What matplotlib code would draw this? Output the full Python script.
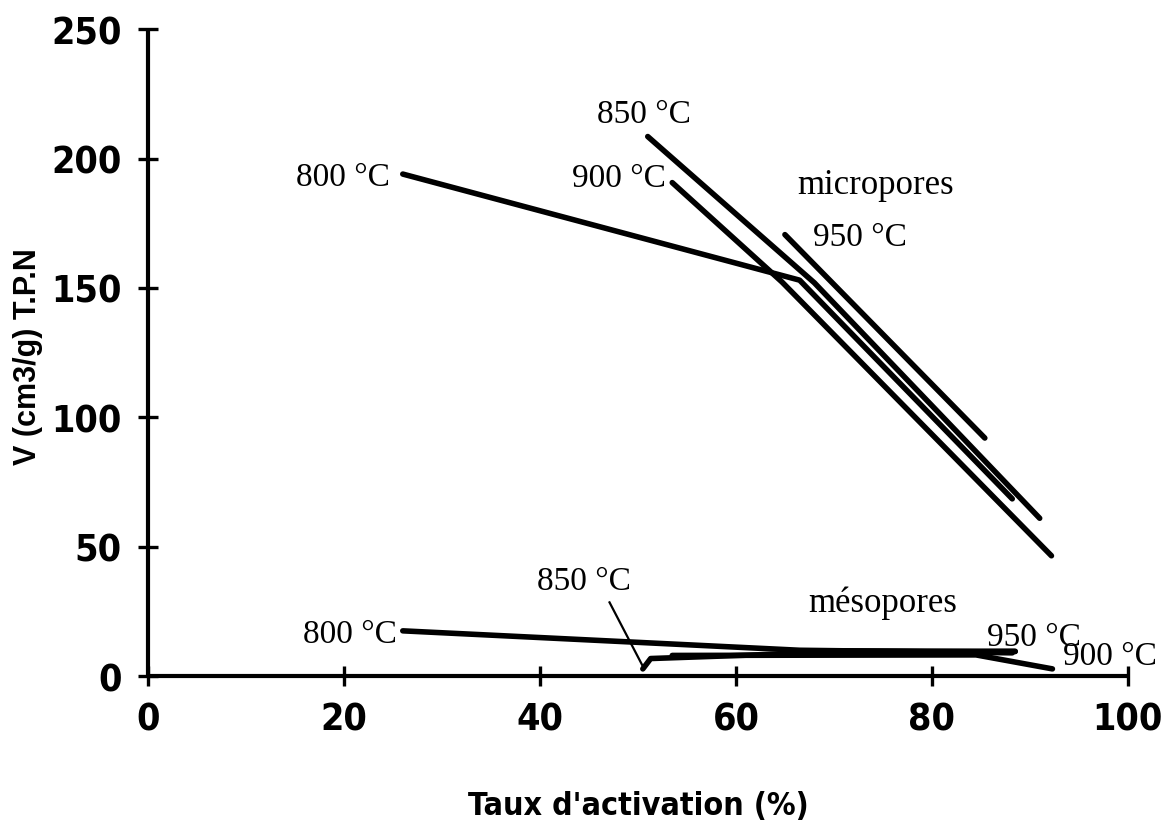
import matplotlib
matplotlib.use("Agg")
import matplotlib.pyplot as plt
from matplotlib import font_manager

# Pore volume V (cm3/g, T.P.N) versus activation rate (%) for four temperatures
micro_800_x = [26.0, 66.5, 88.2]
micro_800_y = [194.0, 153.0, 68.5]
micro_850_x = [51.0, 68.0, 91.0]
micro_850_y = [208.5, 152.0, 61.0]
micro_900_x = [53.5, 64.7, 92.2]
micro_900_y = [190.7, 152.3, 46.5]
micro_950_x = [65.0, 85.4]
micro_950_y = [170.6, 92.0]

meso_800_x = [26.0, 66.5, 88.2]
meso_800_y = [17.5, 10.0, 9.0]
meso_850_x = [50.5, 51.3, 68.0, 88.5]
meso_850_y = [2.8, 6.8, 9.0, 9.5]
meso_900_x = [53.5, 84.5, 92.3]
meso_900_y = [8.0, 8.2, 2.8]
meso_950_x = [65.0, 88.5]
meso_950_y = [9.8, 9.6]

x_ticks = [0, 20, 40, 60, 80, 100]
y_ticks = [0, 50, 100, 150, 200, 250]

SERIF = ["Liberation Serif", "DejaVu Serif"]
tick_fp = font_manager.FontProperties(family="DejaVu Sans", weight="bold",
                                      stretch="condensed", size=27)
xlab_fp = font_manager.FontProperties(family="DejaVu Sans", weight="bold",
                                      stretch="condensed", size=23)

fig = plt.figure(figsize=(11.7, 8.37), dpi=100)
ax = fig.add_axes([0.1265, 0.191, 0.8375, 0.773])

lw = 4.0
for xs, ys in [(micro_800_x, micro_800_y), (micro_850_x, micro_850_y),
               (micro_900_x, micro_900_y), (micro_950_x, micro_950_y),
               (meso_800_x, meso_800_y), (meso_850_x, meso_850_y),
               (meso_900_x, meso_900_y), (meso_950_x, meso_950_y)]:
    ax.plot(xs, ys, color="black", lw=lw, solid_capstyle="round",
            solid_joinstyle="round", clip_on=False)

# leader line for the 850 °C mesopore label
ax.plot([47.1, 50.5], [28.5, 3.8], color="black", lw=1.6, clip_on=False)

ax.set_xlim(0, 100)
ax.set_ylim(0, 250)
ax.set_xticks(x_ticks)
ax.set_yticks(y_ticks)

for side in ("top", "right"):
    ax.spines[side].set_visible(False)
for side in ("left", "bottom"):
    ax.spines[side].set_linewidth(3.0)
    ax.spines[side].set_capstyle("butt")

ax.tick_params(axis="both", direction="inout", length=14, width=2.4,
               color="black")
ax.tick_params(axis="y", pad=12)
ax.tick_params(axis="x", pad=11)

for lab in ax.get_xticklabels() + ax.get_yticklabels():
    lab.set_fontproperties(tick_fp)

ax.set_xlabel("Taux d'activation (%)", fontproperties=xlab_fp, labelpad=38)
ax.set_ylabel("V (cm3/g) T.P.N", family=["Liberation Sans", "DejaVu Sans"],
              fontweight="bold", fontsize=22)
ax.yaxis.set_label_coords(-0.107, 0.495)

labels = [
    ("800 °C", 24.7, 193.0, "right", 24),
    ("850 °C", 45.8, 217.4, "left", 24),
    ("900 °C", 52.8, 192.5, "right", 24),
    ("micropores", 74.3, 190.0, "center", 25),
    ("950 °C", 67.9, 169.7, "left", 24),
    ("mésopores", 75.0, 28.5, "center", 25),
    ("850 °C", 39.7, 37.0, "left", 24),
    ("800 °C", 25.4, 16.2, "right", 24),
    ("950 °C", 85.6, 15.4, "left", 24),
    ("900 °C", 93.4, 7.7, "left", 24),
]
for txt, x, y, ha, size in labels:
    ax.text(x, y, txt, family=SERIF, fontsize=size, ha=ha, va="center",
            color="black", clip_on=False)

fig.savefig("out.png", dpi=100, facecolor="white")
